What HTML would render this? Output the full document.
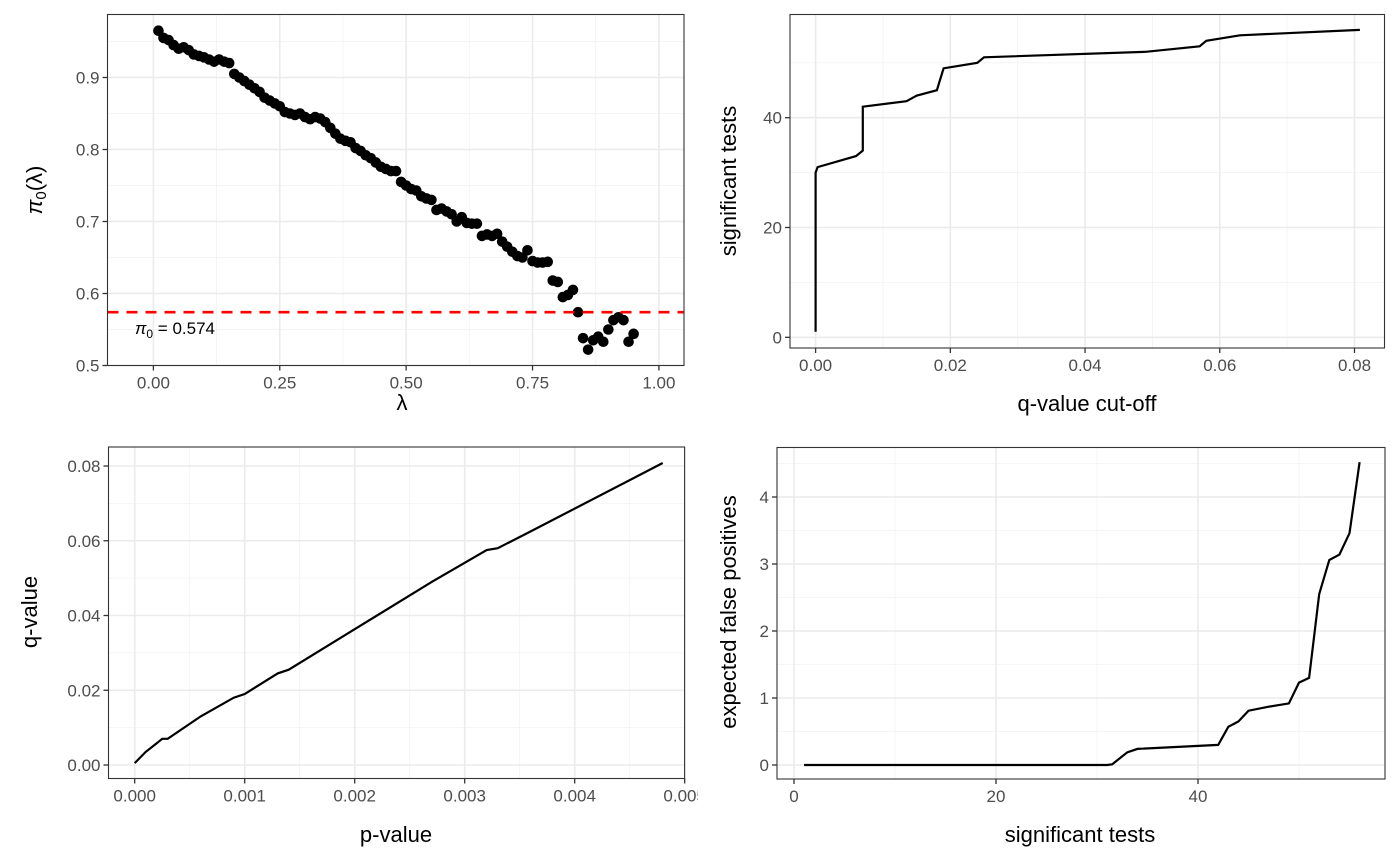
<!DOCTYPE html>
<html><head><meta charset="utf-8"><style>
html,body{margin:0;padding:0;background:#fff;}
svg{display:block;font-family:"Liberation Sans",sans-serif;}
.tk{font-size:17px;fill:#4D4D4D;}
.ti{font-size:22px;fill:#000;}
</style></head><body>
<svg id="fig" width="1400" height="865" viewBox="0 0 1400 865">
<defs><clipPath id="clip3"><rect x="0" y="0" width="698" height="865"/></clipPath></defs>
</svg>
<script>
// Panel 1 data: pi0(lambda)
const lambdaVals = [0.01,0.02,0.03,0.04,0.05,0.06,0.07,0.08,0.09,0.10,0.11,0.12,0.13,0.14,0.15,0.16,0.17,0.18,0.19,0.20,0.21,0.22,0.23,0.24,0.25,0.26,0.27,0.28,0.29,0.30,0.31,0.32,0.33,0.34,0.35,0.36,0.37,0.38,0.39,0.40,0.41,0.42,0.43,0.44,0.45,0.46,0.47,0.48,0.49,0.50,0.51,0.52,0.53,0.54,0.55,0.56,0.57,0.58,0.59,0.60,0.61,0.62,0.63,0.64,0.65,0.66,0.67,0.68,0.69,0.70,0.71,0.72,0.73,0.74,0.75,0.76,0.77,0.78,0.79,0.80,0.81,0.82,0.83,0.84,0.85,0.86,0.87,0.88,0.89,0.90,0.91,0.92,0.93,0.94,0.95];
const pi0Vals = [0.965,0.955,0.952,0.945,0.940,0.942,0.938,0.932,0.930,0.928,0.925,0.922,0.925,0.922,0.920,0.905,0.900,0.895,0.890,0.885,0.880,0.872,0.868,0.864,0.860,0.852,0.850,0.848,0.850,0.845,0.842,0.845,0.843,0.838,0.830,0.822,0.815,0.812,0.810,0.802,0.798,0.792,0.788,0.782,0.776,0.773,0.770,0.770,0.755,0.750,0.745,0.743,0.735,0.732,0.730,0.716,0.718,0.714,0.710,0.700,0.706,0.698,0.697,0.697,0.680,0.682,0.680,0.683,0.672,0.665,0.658,0.652,0.650,0.660,0.645,0.643,0.643,0.644,0.618,0.616,0.595,0.598,0.605,0.574,0.538,0.522,0.535,0.540,0.533,0.550,0.563,0.567,0.563,0.533,0.544];
const pi0Estimate = 0.574;
const p1XTicks = ["0.00","0.25","0.50","0.75","1.00"];
const p1YTicks = ["0.5","0.6","0.7","0.8","0.9"];
// Panel 2 data: q-value cut-off vs significant tests
const cutoffVals = [0,0,0.0003,0.006,0.007,0.007,0.0135,0.015,0.018,0.0185,0.019,0.024,0.025,0.049,0.057,0.058,0.063,0.0808];
const sigVals2 = [1,30,31,33,34,42,43,44,45,47,49,50,51,52,53,54,55,56];
const p2XTicks = ["0.00","0.02","0.04","0.06","0.08"];
const p2YTicks = ["0","20","40"];
// Panel 3 data: p-value vs q-value
const pVals = [0,0.0001,0.0002,0.00025,0.0003,0.0006,0.0009,0.001,0.0013,0.0014,0.0027,0.0032,0.0033,0.0036,0.0048];
const qVals = [0.0005,0.0035,0.0058,0.007,0.007,0.013,0.018,0.019,0.0245,0.0255,0.049,0.0575,0.058,0.0625,0.0808];
const p3XTicks = ["0.000","0.001","0.002","0.003","0.004","0.005"];
const p3YTicks = ["0.00","0.02","0.04","0.06","0.08"];
// Panel 4 data: significant tests vs expected false positives
const sigVals4 = [1,31,31.5,33,34,42,43,44,45,47,49,50,51,52,53,54,55,56];
const efpVals = [0,0,0.01,0.19,0.24,0.30,0.57,0.65,0.81,0.87,0.92,1.23,1.30,2.55,3.06,3.14,3.46,4.52];
const p4XTicks = ["0","20","40"];
const p4YTicks = ["0","1","2","3","4"];

const NS="http://www.w3.org/2000/svg";
const fig=document.getElementById('fig');
function mk(tag,attrs,parent){const e=document.createElementNS(NS,tag);for(const k in attrs)e.setAttribute(k,attrs[k]);(parent||fig).appendChild(e);return e;}
function lin(d0,d1,r0,r1){return v=>r0+(v-d0)*(r1-r0)/(d1-d0);}

function panel(cfg){
  const g=mk('g',{});
  
  
  const {L,R,T,B,sx,sy}=cfg;
  const bg=mk('rect',{x:L,y:T,width:R-L,height:B-T,fill:'#fff'},g);
  
  
  cfg.xMinor.forEach(v=>{const x=sx(v);if(x>L&&x<R){const l=mk('line',{x1:x,x2:x,y1:T,y2:B,stroke:'#F2F2F2','stroke-width':0.8},g);}});
  cfg.yMinor.forEach(v=>{const y=sy(v);if(y>T&&y<B){const l=mk('line',{x1:L,x2:R,y1:y,y2:y,stroke:'#F2F2F2','stroke-width':0.8},g);}});
  cfg.xTickVals.forEach(v=>{const x=sx(v);const l=mk('line',{x1:x,x2:x,y1:T,y2:B,stroke:'#EBEBEB','stroke-width':1.6},g);});
  cfg.yTickVals.forEach(v=>{const y=sy(v);const l=mk('line',{x1:L,x2:R,y1:y,y2:y,stroke:'#EBEBEB','stroke-width':1.6},g);});
  cfg.draw(g);
  const br=mk('rect',{x:L,y:T,width:R-L,height:B-T,fill:'none',stroke:'#333','stroke-width':1.1},g);
  
  
  const xt=mk('g',cfg.clipX?{'clip-path':'url(#clip3)'}:{},g);
  cfg.xTickVals.forEach((v,i)=>{const x=sx(v);
    const l=mk('line',{x1:x,x2:x,y1:B,y2:B+5,stroke:'#333','stroke-width':1.3},g);
    
    const t=mk('text',{x:x,y:B+23,'text-anchor':'middle',class:'tk'},xt);t.textContent=cfg.xLabels[i];
    });
  cfg.yTickVals.forEach((v,i)=>{const y=sy(v);
    const l=mk('line',{x1:L-5,x2:L,y1:y,y2:y,stroke:'#333','stroke-width':1.3},g);
    
    const t=mk('text',{x:L-8,y:y+6,'text-anchor':'end',class:'tk'},g);t.textContent=cfg.yLabels[i];
    });
  const xtitle=mk('text',{x:cfg.xtx,y:cfg.xty,'text-anchor':'middle',class:'ti'},g);xtitle.textContent=cfg.xTitle;
  
  const ytitle=mk('text',{x:0,y:0,'text-anchor':'middle',class:'ti',transform:`translate(${cfg.ytx},${cfg.yty}) rotate(-90)`},g);
  if(cfg.yTitleHTML){ytitle.innerHTML=cfg.yTitleHTML;}else ytitle.textContent=cfg.yTitle;
  
}
function path(xs,ys,sx,sy){return xs.map((v,i)=>(i?'L':'M')+sx(v).toFixed(1)+','+sy(ys[i]).toFixed(1)).join(' ');}

// Panel 1
(function(){
  const sx=lin(0,1,153.4,658.9), sy=lin(0.5,0.9,365.5,77.5);
  panel({name:'pi0-lambda-panel',L:107.5,R:684,T:14.5,B:365.5,sx,sy,
    xTickVals:p1XTicks.map(Number),yTickVals:p1YTicks.map(Number),xLabels:p1XTicks,yLabels:p1YTicks,
    xMinor:[-0.125,0.125,0.375,0.625,0.875],yMinor:[0.55,0.65,0.75,0.85,0.95],
    xTitle:'λ',xtx:402,xty:410,ytx:42,yty:190,
    yTitleHTML:'<tspan font-style="italic">π</tspan><tspan font-size="15" dy="4">0</tspan><tspan dy="-4">(λ)</tspan>',
    draw:g=>{
      lambdaVals.forEach((v,i)=>{const c=mk('circle',{cx:sx(v),cy:sy(pi0Vals[i]),r:5.3,fill:'#000'},g);
        });
      const y=sy(pi0Estimate);
      const l=mk('line',{x1:107.5,x2:684,y1:y,y2:y,stroke:'#FF0000','stroke-width':2.6,'stroke-dasharray':'11,8'},g);
      
      const t=mk('text',{x:135,y:y+22,'font-size':'17px',fill:'#000'},g);
      t.innerHTML='<tspan font-style="italic">π</tspan><tspan font-size="12" dy="4">0</tspan><tspan dy="-4"> = '+pi0Estimate+'</tspan>';
      
    }});
})();
// Panel 2
(function(){
  const sx=lin(0,0.08,815.6,1354.5), sy=lin(0,40,337.3,117.7);
  panel({name:'significant-tests-vs-cutoff-panel',L:790,R:1384.5,T:14.5,B:348,sx,sy,
    xTickVals:p2XTicks.map(Number),yTickVals:p2YTicks.map(Number),xLabels:p2XTicks,yLabels:p2YTicks,
    xMinor:[0.01,0.03,0.05,0.07],yMinor:[10,30,50],
    xTitle:'q-value cut-off',xtx:1087,xty:411,ytx:736,yty:181,yTitle:'significant tests',
    draw:g=>{const p=mk('path',{d:path(cutoffVals,sigVals2,sx,sy),fill:'none',stroke:'#000','stroke-width':2.2},g);
      }});
})();
// Panel 3
(function(){
  const sx=lin(0,0.001,134.7,244.7), sy=lin(0,0.08,765,466);
  panel({name:'qvalue-vs-pvalue-panel',L:108.5,R:684.6,T:447,B:778.5,sx,sy,clipX:true,
    xTickVals:p3XTicks.map(Number),yTickVals:p3YTicks.map(Number),xLabels:p3XTicks,yLabels:p3YTicks,
    xMinor:[0.0005,0.0015,0.0025,0.0035,0.0045],yMinor:[0.01,0.03,0.05,0.07],
    xTitle:'p-value',xtx:396,xty:842,ytx:37,yty:612,yTitle:'q-value',
    draw:g=>{const p=mk('path',{d:path(pVals,qVals,sx,sy),fill:'none',stroke:'#000','stroke-width':2.2},g);
      }});
})();
// Panel 4
(function(){
  const sx=lin(0,20,794,996), sy=lin(0,4,765,497);
  panel({name:'expected-false-positives-panel',L:777,R:1385,T:447.5,B:779,sx,sy,
    xTickVals:p4XTicks.map(Number),yTickVals:p4YTicks.map(Number),xLabels:p4XTicks,yLabels:p4YTicks,
    xMinor:[10,30,50],yMinor:[0.5,1.5,2.5,3.5,4.5],
    xTitle:'significant tests',xtx:1080,xty:842,ytx:736,yty:612,yTitle:'expected false positives',
    draw:g=>{const p=mk('path',{d:path(sigVals4,efpVals,sx,sy),fill:'none',stroke:'#000','stroke-width':2.2},g);
      }});
})();
</script>
</body></html>
